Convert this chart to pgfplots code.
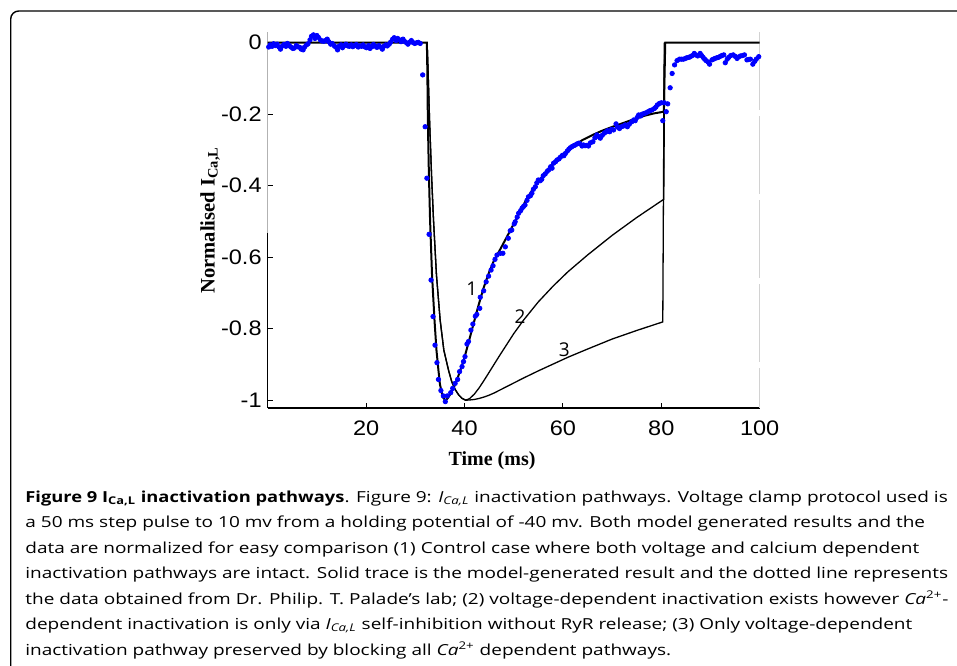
\documentclass[border=0pt]{standalone}
\usepackage{fontspec}
\usepackage{pgfplots}
\pgfplotsset{compat=1.18}
\setmainfont{Open Sans}
\newfontfamily\capfont{Open Sans}[FakeStretch=1.25]
\newfontfamily\tickfont{Liberation Sans}[FakeStretch=1.12]
\newfontfamily\labfont{Liberation Serif}
\newfontfamily\numfont{Open Sans}
\definecolor{dataBlue}{RGB}{0,0,255}
\begin{document}
\begin{tikzpicture}
\path[use as bounding box] (0,0) rectangle (478.5pt,332.5pt);
\draw[line width=0.7pt, rounded corners=4pt] (5.35pt,-1pt) -- (5.35pt,327pt) -- (480pt,327pt);
\begin{axis}[
  at={(133.85pt,128.35pt)}, anchor=south west,
  scale only axis, width=246pt, height=188.15pt,
  xmin=0, xmax=100, ymin=-1.0227, ymax=0.03,
  clip=false,
  axis line style={draw=none},
  xtick={20,40,60,80,100}, xticklabels={20,40,60,80,100},
  ytick={-1,-0.8,-0.6,-0.4,-0.2,0}, yticklabels={-1,-0.8,-0.6,-0.4,-0.2,0},
  xtick pos=bottom, ytick pos=left,
  tick align=inside, major tick length=2.5pt,
  tick style={black, line width=0.5pt},
  ticklabel style={font=\tickfont\fontsize{10.5}{12}\selectfont},
  yticklabel style={anchor=east, inner sep=0pt, xshift=-2.85pt},
  xticklabel style={anchor=north, inner sep=0pt, yshift=-6.3pt},
  xlabel={\labfont\bfseries\fontsize{10}{12}\selectfont Time (ms)},
  xlabel style={at={(axis description cs:0.456,-0.140)}, anchor=center, inner sep=0pt},
  ylabel={\labfont\bfseries\fontsize{10.3}{12}\selectfont Normalised I\textsubscript{Ca,L}},
  ylabel style={at={(axis description cs:-0.117,0.50)}, anchor=center, inner sep=0pt},
]
% axis lines
\draw[gray!60, line width=0.6pt] (rel axis cs:0,1) -- (rel axis cs:0,0.466);
\draw[black, line width=0.75pt] (rel axis cs:0,0.466) -- (rel axis cs:0,0);
\draw[black, line width=0.9pt] (rel axis cs:0,0) -- (rel axis cs:1,0);
\draw[gray!35, line width=0.6pt, dash pattern=on 39pt off 3pt] (rel axis cs:1,1) -- (rel axis cs:1,0);

% blue data
\addplot[only marks, mark=*, mark size=1.1pt, dataBlue, mark options={draw=dataBlue, fill=dataBlue}] coordinates {
(0.2,-0.012) (0.5,-0.006) (0.9,-0.010) (1.2,-0.003) (1.6,-0.008) (1.9,-0.004) (2.3,-0.012) (2.6,-0.018) (3.0,-0.009) (3.3,-0.005)
(3.7,-0.010) (4.0,-0.002) (4.4,-0.008) (4.7,-0.012) (5.1,-0.016) (5.4,-0.015) (5.8,-0.008) (6.1,-0.011) (6.5,-0.013) (6.8,-0.018)
(7.2,-0.020) (7.5,-0.012) (7.9,-0.006) (8.2,-0.003) (8.6,0.008) (8.9,0.018) (9.3,0.022) (9.6,0.012) (10.0,0.020) (10.3,0.015)
(10.7,0.008) (11.0,0.005) (11.4,0.004) (11.7,0.006) (12.1,0.010) (12.4,0.003) (12.8,-0.004) (13.1,-0.002) (13.5,-0.008) (13.8,-0.012)
(14.2,-0.020) (14.5,-0.010) (14.9,-0.006) (15.2,-0.014) (15.6,-0.008) (15.9,-0.004) (16.3,-0.009) (16.6,-0.010) (17.0,-0.006) (17.3,-0.011)
(17.7,-0.008) (18.0,-0.005) (18.4,-0.012) (18.7,-0.009) (19.1,-0.010) (19.4,-0.006) (19.8,-0.012) (20.1,-0.014) (20.5,-0.008) (20.8,-0.016)
(21.2,-0.011) (21.5,-0.005) (21.9,-0.010) (22.2,-0.013) (22.6,-0.008) (22.9,-0.012) (23.3,-0.018) (23.6,-0.010) (24.0,-0.006) (24.3,-0.009)
(24.7,-0.004) (25.0,0.002) (25.4,0.010) (25.7,0.014) (26.1,0.006) (26.4,0.012) (26.8,0.008) (27.1,0.003) (27.5,0.010) (27.8,0.004)
(28.2,0.000) (28.5,-0.004) (28.9,0.002) (29.2,0.006) (29.6,0.000) (29.9,-0.002) (30.3,0.000) (30.6,0.001) (31.0,-0.002)
(31.5,-0.090) (32.0,-0.235) (32.35,-0.379) (32.8,-0.536) (33.2,-0.664) (33.6,-0.766) (34.0,-0.846) (34.4,-0.895) (34.7,-0.942) (35.2,-0.973)
(35.7,-0.988) (36.1,-1.004) (36.5,-0.988) (37.2,-0.979) (37.6,-0.967) (38.1,-0.953) (38.6,-0.942) (39.0,-0.920) (39.5,-0.906) (39.8,-0.892)
(40.1,-0.878) (40.5,-0.843) (40.8,-0.836) (41.3,-0.804) (41.7,-0.787) (42.2,-0.765) (42.5,-0.760) (43.1,-0.743) (43.2,-0.712) (43.9,-0.694)
(44.4,-0.669) (44.9,-0.653) (45.4,-0.636) (45.8,-0.624) (46.2,-0.606) (46.6,-0.594) (47.3,-0.589) (47.8,-0.589) (48.3,-0.571) (48.9,-0.547)
(49.3,-0.526) (49.6,-0.524) (50.1,-0.507) (50.3,-0.501) (50.7,-0.488) (51.0,-0.477) (51.4,-0.470) (51.7,-0.463) (52.0,-0.458) (52.3,-0.454)
(52.7,-0.441) (53.0,-0.431) (53.4,-0.428) (53.7,-0.421) (54.0,-0.410) (54.4,-0.403) (54.7,-0.392) (55.0,-0.384) (55.4,-0.386) (55.7,-0.382)
(56.0,-0.372) (56.4,-0.367) (56.8,-0.360) (57.1,-0.356) (57.5,-0.347) (57.8,-0.351) (58.1,-0.337) (58.5,-0.333) (58.8,-0.328) (59.2,-0.325)
(59.5,-0.320) (59.9,-0.315) (60.2,-0.316) (60.5,-0.310) (60.9,-0.303) (61.2,-0.298) (61.5,-0.294) (61.8,-0.291) (62.2,-0.288) (62.5,-0.286)
(62.9,-0.283) (63.2,-0.281) (63.5,-0.283) (63.9,-0.289) (64.2,-0.286) (64.5,-0.288) (64.9,-0.287) (65.2,-0.289) (65.6,-0.280) (66.1,-0.277)
(66.5,-0.266) (66.9,-0.258) (67.2,-0.262) (67.6,-0.267) (68.0,-0.259) (68.4,-0.253) (68.7,-0.250) (69.1,-0.246) (69.5,-0.249) (69.9,-0.242)
(70.3,-0.244) (70.8,-0.227) (71.1,-0.236) (71.5,-0.240) (71.9,-0.235) (72.3,-0.233) (72.7,-0.230) (73.1,-0.235) (73.5,-0.228) (74.0,-0.221)
(74.4,-0.216) (74.7,-0.218) (75.1,-0.209) (75.4,-0.202) (75.8,-0.205) (76.1,-0.200) (76.5,-0.198) (76.9,-0.196) (77.3,-0.193) (77.7,-0.190)
(78.1,-0.188) (78.6,-0.184) (78.9,-0.180) (79.2,-0.174) (79.6,-0.170) (80.0,-0.168) (80.3,-0.218) (80.6,-0.168) (81.0,-0.193) (81.3,-0.171)
(81.8,-0.126) (82.2,-0.086) (82.7,-0.062) (83.2,-0.050) (83.7,-0.046) (84.1,-0.046) (84.5,-0.046) (84.9,-0.044) (85.2,-0.042) (85.6,-0.041)
(85.9,-0.039) (86.3,-0.036) (86.7,-0.030) (87.0,-0.034) (87.4,-0.037) (87.9,-0.030) (88.2,-0.036) (88.5,-0.041) (88.8,-0.046) (89.1,-0.050)
(89.5,-0.054) (89.8,-0.060) (90.3,-0.048) (90.6,-0.046) (90.9,-0.044) (91.3,-0.042) (91.6,-0.041) (92.0,-0.038) (92.3,-0.036) (92.7,-0.034)
(93.0,-0.056) (93.4,-0.046) (93.7,-0.041) (94.1,-0.036) (94.6,-0.034) (95.0,-0.038) (95.4,-0.044) (95.7,-0.040) (96.1,-0.037) (96.5,-0.036)
(96.9,-0.034) (97.4,-0.048) (97.7,-0.047) (98.1,-0.046) (98.6,-0.060) (99.0,-0.052) (99.3,-0.046) (99.8,-0.039)
};

% model curve 3 (voltage-dependent only)
\addplot[black, line width=0.65pt] coordinates {
(32.4,0) (32.6,-0.08) (32.9,-0.217) (33.3,-0.37) (33.7,-0.496) (34.3,-0.65) (35.05,-0.776) (35.8,-0.86)
(36.75,-0.916) (37.4,-0.948) (38.1,-0.970) (38.8,-0.985) (39.5,-0.995) (40.3,-1.0)
(41.0,-0.9995) (42.0,-0.998) (43.0,-0.995) (44.0,-0.991) (45.0,-0.986) (46.0,-0.980) (47.0,-0.973)
(48.0,-0.966) (50.0,-0.952) (52.0,-0.938) (55.0,-0.918) (58.0,-0.899) (61.0,-0.880) (65.0,-0.857)
(70.0,-0.829) (75.0,-0.805) (80.3,-0.781) (80.6,0)
};
% model curve 2
\addplot[black, line width=0.65pt] coordinates {
(32.4,0) (32.6,-0.08) (32.9,-0.217) (33.3,-0.37) (33.7,-0.496) (34.3,-0.65) (35.05,-0.776) (35.8,-0.86)
(36.75,-0.916) (37.4,-0.948) (38.1,-0.970) (38.8,-0.985) (39.5,-0.995) (40.2,-1.0)
(41.0,-0.996) (42.0,-0.983) (43.0,-0.965) (44.0,-0.944) (45.0,-0.922) (47.0,-0.878) (50.0,-0.814)
(52.0,-0.776) (55.0,-0.725) (58.0,-0.681) (61.0,-0.641) (65.0,-0.594) (70.0,-0.539) (75.0,-0.489)
(80.5,-0.438) (80.7,0)
};
% model curve 1 (control)
\addplot[black, line width=1pt] coordinates {
(0,0) (32.35,0) (32.45,-0.08) (32.55,-0.217) (32.75,-0.36) (33.0,-0.496) (33.4,-0.65) (33.9,-0.776)
(34.3,-0.86) (34.7,-0.916) (35.0,-0.955) (35.4,-0.980) (35.75,-0.995) (36.1,-1.0)
(36.5,-0.996) (37.0,-0.986) (37.8,-0.966) (38.8,-0.930) (39.8,-0.890) (40.8,-0.840) (41.8,-0.788)
(42.8,-0.737) (43.9,-0.685) (45.0,-0.642) (46.0,-0.609) (47.3,-0.577) (48.5,-0.546) (50.0,-0.507)
(51.3,-0.470) (52.7,-0.436) (54.0,-0.407) (55.4,-0.381) (56.8,-0.358) (58.1,-0.338) (60.0,-0.312)
(62.2,-0.288) (64.0,-0.272) (66.2,-0.257) (68.0,-0.246) (70.3,-0.234) (72.4,-0.224) (74.4,-0.214)
(76.4,-0.205) (78.4,-0.198) (80.5,-0.193) (80.8,0) (100,0)
};
\node[font=\numfont\fontsize{9.5}{10}\selectfont] at (axis cs:41.5,-0.687) {1};
\node[font=\numfont\fontsize{9.5}{10}\selectfont] at (axis cs:51.3,-0.766) {2};
\node[font=\numfont\fontsize{9.5}{10}\selectfont] at (axis cs:60.3,-0.859) {3};
\end{axis}
\begin{scope}[every node/.style={anchor=base west, inner sep=0pt, font=\capfont\fontsize{7.6}{9}\selectfont}]
\node at (12.5pt,81.5pt) {\scalebox{0.964}[1]{\bfseries Figure 9 I\textsubscript{Ca,L} inactivation pathways}. Figure 9: \textit{I\textsubscript{Ca,L}} inactivation pathways. Voltage clamp protocol used is};
\node at (12.5pt,68.75pt) {a 50 ms step pulse to 10 mv from a holding potential of -40 mv. Both model generated results and the};
\node at (12.5pt,56pt) {data are normalized for easy comparison (1) Control case where both voltage and calcium dependent};
\node at (12.5pt,43.25pt) {inactivation pathways are intact. Solid trace is the model-generated result and the dotted line represents};
\node at (12.5pt,30.5pt) {the data obtained from Dr. Philip. T. Palade’s lab; (2) voltage-dependent inactivation exists however \textit{Ca}\textsuperscript{2+}-};
\node at (12.5pt,17.75pt) {dependent inactivation is only via \textit{I\textsubscript{Ca,L}} self-inhibition without RyR release; (3) Only voltage-dependent};
\node at (12.5pt,5pt) {inactivation pathway preserved by blocking all \textit{Ca}\textsuperscript{2+} dependent pathways.};
\end{scope}
\end{tikzpicture}
\end{document}
